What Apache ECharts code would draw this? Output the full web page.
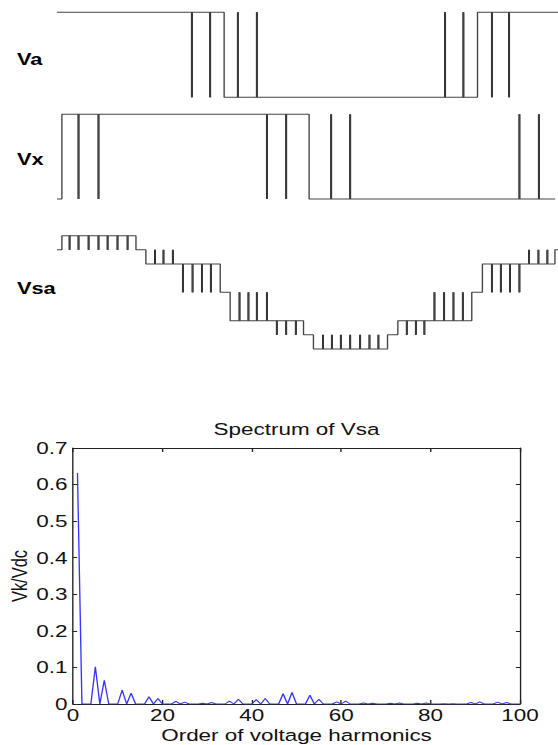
<!DOCTYPE html>
<html>
<head>
<meta charset="utf-8">
<script src="https://cdn.jsdelivr.net/npm/echarts@6/dist/echarts.min.js"></script>
<style>
html,body{margin:0;padding:0;background:#fff;overflow:hidden;}
#c{width:410px;height:745px;transform-origin:0 0;}
</style>
</head>
<body>
<div id="c"></div>
<script>
// ---------- DATA ----------
// Switching waveforms (angle in degrees, level)
const vaAngles = [60, 179.6, 360.9, 418.5];
const vaLevels = [1, 0, 1, 1];
const vaSpikeAngles = [156.5, 169.6, 189.4, 203.0, 337.7, 350.8, 371.2, 383.5];
const vaSpikeLevels = [0, 0, 1, 1, 1, 1, 0, 0];

const vxAngles = [60, 63.5, 240.4, 416.4];
const vxLevels = [0, 1, 0, 0];
const vxSpikeAngles = [75.4, 89.7, 210.2, 224.0, 256.2, 269.8, 390.9, 404.8];
const vxSpikeLevels = [0, 0, 0, 0, 1, 1, 1, 1];

const vsaAngles = [60, 63.5, 116.5, 123.6, 176.8, 183.9, 236.4, 243.5, 296.5, 303.9, 356.8, 364.4, 416.3, 418.5];
const vsaLevels = [1.5, 2, 1.5, 1, 0, -1, -1.5, -2, -1.5, -1, 0, 1, 1.5, 1.5];
const vsaSpikeAngles = [69.0, 75.4, 82.6, 89.7, 96.2, 103.3, 110.5,
  130.1, 136.2, 142.9,
  150.1, 157.0, 163.7, 170.1,
  190.6, 197.0, 203.0, 210.2,
  217.3, 224.0, 230.9,
  250.3, 256.7, 263.1, 269.8, 276.9, 283.6, 290.0,
  310.3, 316.8, 322.9,
  330.1, 337.0, 343.7, 350.4,
  371.2, 377.6, 384.2, 390.9,
  397.8, 404.5, 410.9];
const vsaSpikeLevels = [1.5, 1.5, 1.5, 1.5, 1.5, 1.5, 1.5,
  1.5, 1.5, 1.5,
  0, 0, 0, 0,
  0, 0, 0, 0,
  -1.5, -1.5, -1.5,
  -1.5, -1.5, -1.5, -1.5, -1.5, -1.5, -1.5,
  -1.5, -1.5, -1.5,
  0, 0, 0, 0,
  0, 0, 0, 0,
  1.5, 1.5, 1.5];

const waveNames = ['Va', 'Vx', 'Vsa'];

// Spectrum of Vsa
const harmonicOrders = [1,2,3,4,5,6,7,8,9,10,11,12,13,14,15,16,17,18,19,20,
  21,22,23,24,25,26,27,28,29,30,31,32,33,34,35,36,37,38,39,40,
  41,42,43,44,45,46,47,48,49,50,51,52,53,54,55,56,57,58,59,60,
  61,62,63,64,65,66,67,68,69,70,71,72,73,74,75,76,77,78,79,80,
  81,82,83,84,85,86,87,88,89,90,91,92,93,94,95,96,97,98,99,100];
const spectrumValues = [
  0.632, 0, 0, 0, 0.102, 0, 0.065, 0, 0, 0,
  0.038, 0, 0.030, 0, 0, 0, 0.020, 0, 0.015, 0,
  0, 0, 0.007, 0, 0.005, 0, 0, 0, 0.002, 0,
  0.004, 0, 0, 0, 0.008, 0, 0.013, 0, 0, 0,
  0.012, 0, 0.015, 0, 0, 0, 0.028, 0, 0.032, 0,
  0, 0, 0.024, 0, 0.013, 0, 0, 0, 0.006, 0,
  0.008, 0, 0, 0, 0.003, 0, 0.002, 0, 0, 0,
  0.002, 0, 0.003, 0, 0, 0, 0.002, 0, 0.003, 0,
  0, 0, 0.001, 0, 0.001, 0, 0, 0, 0.004, 0,
  0.006, 0, 0, 0, 0.005, 0, 0.004, 0, 0, 0];
const xTickValues = [0, 20, 40, 60, 80, 100];
const yTickLabels = ['0', '0.1', '0.2', '0.3', '0.4', '0.5', '0.6', '0.7'];

// ---------- LAYOUT ----------
const W = 410, SCREEN_W = 558, S = SCREEN_W / W;
document.getElementById('c').style.transform = 'scaleX(' + S + ')';
const sx = px => px / S;   // screen px -> chart px
const FONT = '"Liberation Sans", Arial, sans-serif';

function levelAt(angles, levels, t) {
  let v = levels[0];
  for (let i = 0; i < angles.length; i++) { if (angles[i] <= t) v = levels[i]; }
  return v;
}
function buildPath(angles, levels, spA, spL) {
  const ev = [];
  for (let i = 1; i < angles.length; i++) ev.push({t: angles[i], k: 's', v: levels[i], p: levels[i - 1]});
  for (let i = 0; i < spA.length; i++) ev.push({t: spA[i], k: 'p', v: spL[i], p: levelAt(angles, levels, spA[i])});
  ev.sort((a, b) => a.t - b.t);
  const out = [[angles[0], levels[0]]];
  ev.forEach(e => {
    if (e.k === 's') { out.push([e.t, e.p], [e.t, e.v]); }
    else { out.push([e.t, e.p], [e.t, e.v], [e.t, e.p]); }
  });
  return out;
}
function spikeData(angles, levels, spA, spL) {
  return spA.map((t, i) => [t, levelAt(angles, levels, t), spL[i]]);
}

const waves = [
  {a: vaAngles, l: vaLevels, sa: vaSpikeAngles, sl: vaSpikeLevels, min: 0, max: 1, top: 12.3, h: 85, labelY: 59},
  {a: vxAngles, l: vxLevels, sa: vxSpikeAngles, sl: vxSpikeLevels, min: 0, max: 1, top: 114.3, h: 84.7, labelY: 159},
  {a: vsaAngles, l: vsaLevels, sa: vsaSpikeAngles, sl: vsaSpikeLevels, min: -2, max: 2, top: 235.7, h: 113.3, labelY: 288}
];

const grid = [], xAxis = [], yAxis = [], series = [], graphic = [];
waves.forEach((w, i) => {
  grid.push({left: sx(57), right: 0, top: w.top, height: w.h, outerBoundsMode: 'none', containLabel: false});
  xAxis.push({type: 'value', gridIndex: i, min: 60, max: 418.5, show: false});
  yAxis.push({type: 'value', gridIndex: i, min: w.min, max: w.max, show: false});
  series.push({
    type: 'line', xAxisIndex: i, yAxisIndex: i, symbol: 'none', clip: false,
    data: buildPath(w.a, w.l, w.sa, w.sl),
    lineStyle: {color: '#444', width: 1}, silent: true
  });
  series.push({
    type: 'custom', xAxisIndex: i, yAxisIndex: i, clip: false,
    data: spikeData(w.a, w.l, w.sa, w.sl),
    encode: {x: 0, y: [1, 2]},
    renderItem: function (params, api) {
      const p1 = api.coord([api.value(0), api.value(1)]);
      const p2 = api.coord([api.value(0), api.value(2)]);
      return {type: 'line', shape: {x1: p1[0], y1: p1[1], x2: p2[0], y2: p2[1]},
        style: {stroke: '#000', lineWidth: 1.4}};
    }
  });
  graphic.push({type: 'text', x: sx(17), y: w.labelY + 1,
    style: {text: waveNames[i], font: 'bold 16px ' + FONT, fill: '#000', verticalAlign: 'middle', align: 'left'}});
});

// Spectrum grid (index 3)
grid.push({left: sx(73), right: W - sx(520), top: 448, height: 256, outerBoundsMode: 'none', containLabel: false});
const axisLineStyle = {color: '#222', width: 1};
const labelStyle = {fontFamily: FONT, fontSize: 16.5, color: '#111'};
xAxis.push({
  type: 'value', gridIndex: 3, min: xTickValues[0], max: xTickValues[xTickValues.length - 1],
  interval: xTickValues[1] - xTickValues[0], position: 'bottom',
  axisLine: {show: true, onZero: false, lineStyle: axisLineStyle},
  axisTick: {show: true, inside: true, length: 4, lineStyle: axisLineStyle},
  axisLabel: Object.assign({margin: 3}, labelStyle),
  splitLine: {show: false},
  name: 'Order of voltage harmonics', nameLocation: 'middle', nameGap: 23,
  nameMoveOverlap: false,
  nameTextStyle: labelStyle
});
xAxis.push({
  type: 'value', gridIndex: 3, min: xTickValues[0], max: xTickValues[xTickValues.length - 1],
  interval: xTickValues[1] - xTickValues[0], position: 'top',
  axisLine: {show: true, onZero: false, lineStyle: axisLineStyle},
  axisTick: {show: true, inside: true, length: 4, lineStyle: axisLineStyle},
  axisLabel: {show: false}, splitLine: {show: false},
  name: 'Spectrum of Vsa', nameLocation: 'middle', nameGap: 10,
  nameMoveOverlap: false,
  nameTextStyle: labelStyle
});
yAxis.push({
  type: 'value', gridIndex: 3, min: 0, max: 0.7, interval: 0.1, position: 'left',
  axisLine: {show: true, onZero: false, lineStyle: axisLineStyle},
  axisTick: {show: true, inside: true, length: 3, lineStyle: axisLineStyle},
  axisLabel: Object.assign({margin: 4, formatter: v => yTickLabels[Math.round(v * 10)]}, labelStyle),
  splitLine: {show: false},
  name: 'Vk/Vdc', nameLocation: 'middle', nameGap: 31, nameRotate: 90,
  nameMoveOverlap: false,
  nameTextStyle: labelStyle
});
yAxis.push({
  type: 'value', gridIndex: 3, min: 0, max: 0.7, interval: 0.1, position: 'right',
  axisLine: {show: true, onZero: false, lineStyle: axisLineStyle},
  axisTick: {show: true, inside: true, length: 3, lineStyle: axisLineStyle},
  axisLabel: {show: false}, splitLine: {show: false}
});
series.push({
  type: 'line', xAxisIndex: 3, yAxisIndex: 3, symbol: 'none',
  data: harmonicOrders.map((h, i) => [h, spectrumValues[i]]),
  lineStyle: {color: '#3535ff', width: 1}
});

const chart = echarts.init(document.getElementById('c'), null, {renderer: 'svg'});
chart.setOption({
  animation: false,
  backgroundColor: '#fff',
  textStyle: {fontFamily: FONT},
  grid, xAxis, yAxis, series, graphic
});
</script>
</body>
</html>
